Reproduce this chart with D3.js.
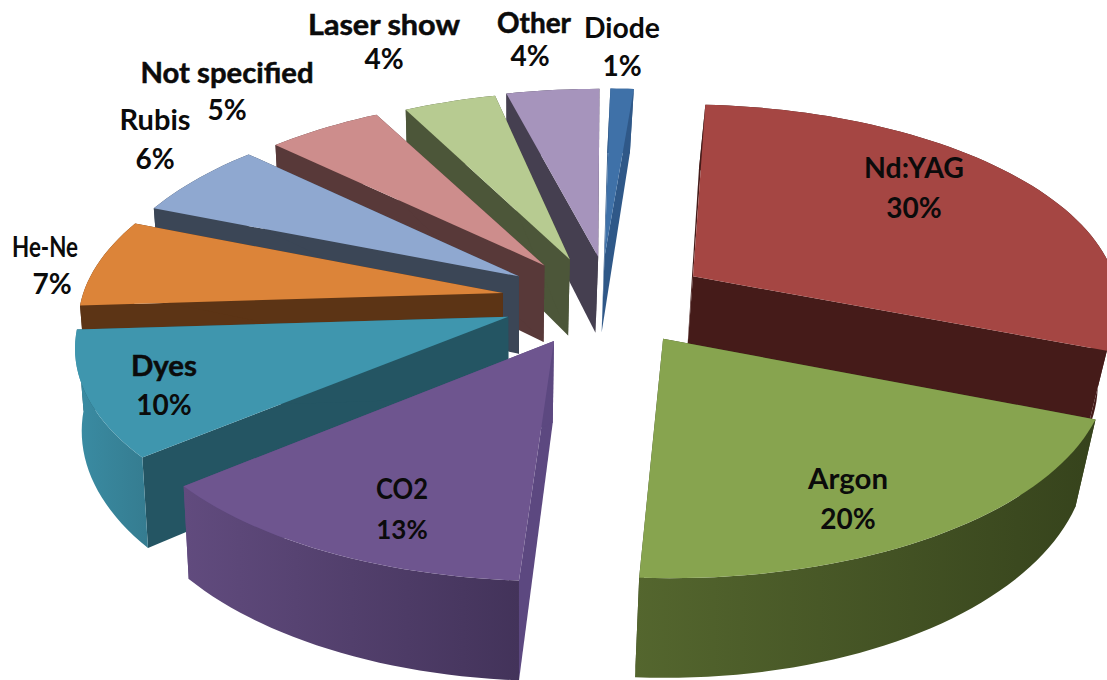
<!DOCTYPE html>
<html><head><meta charset="utf-8">
<script src="https://cdn.jsdelivr.net/npm/d3@7/dist/d3.min.js"></script>
<style>html,body{margin:0;background:#fff}svg{display:block}text{font-family:Lato,"Open Sans",sans-serif;font-weight:700;fill:#0b0b0b;text-anchor:middle}</style>
</head><body><svg id="c" width="1107" height="680"></svg>
<script>
// data
const categories=["Diode","Nd:YAG","Argon","CO2","Dyes","He-Ne","Rubis","Not specified","Laser show","Other"];
const shares=[1,30,20,13,10,7,6,5,4,4];
// styles
const topColors=["#3F71A8","#A54643","#87A44F","#6E558F","#3F96AE","#DC8439","#8FA8D0","#CD8D8C","#B7CB91","#A694BC"];
const edgeColors=["#2F5888","#451B19","#3A461F","#5C4880","#245563","#5C3415","#3B4656","#583939","#4C5639","#453F50"];
const rimLeft=["#2F5888","#451B19","#54662E","#614B7E","#3A8CA3","#5C3415","#3B4656","#583939","#4C5639","#453F50"];
const rimRight=["#2F5888","#451B19","#36431C","#43335A","#357C90","#5C3415","#3B4656","#583939","#4C5639","#453F50"];
const labelSpots=[[622,38,622,76],[914,178,914,218],[848,489,848,529],[402,499,402,539],[164,376,164,415],[45,257,52,294],[155,130,155,169],[227,83,227,120],[384,35,384,69],[534,33,530,66]];
const nameWidths=[76,100,80,52,66,66,71,173,152,74];
const heavy=[0,0,0,0,1,0,0,1,1,1];
// per-slice fine adjustment of the explosion, in pie radii
const rimShift=[-0.006,0,0,-0.015,-0.01,-0.008,-0.006,0.005,0.025,0];
const apexShift=[-0.02,0.006,0,-0.025,-0.025,-0.028,-0.025,-0.018,-0.013,0];
// projection
const cx=610,cy=300,A=430,G=199,K=0.125,H=79,P=1.44,EXPL=0.225,SHRINK_L=0.985,SHRINK_R=0.965,VX=520;
const proj=(u,v,low)=>{const s=1/(1-K*v);const x=cx+u*A*s;
  return low?[VX+(x-VX)*(x<VX?SHRINK_L:SHRINK_R), cy+v*G*s+H*Math.pow(s,P)]:[x,cy+v*G*s];};
const pie=d3.pie().sort(null).value(d=>d);
const arcs=pie(shares);
const svg=d3.select("#c");
const defs=svg.append("defs");
const line=d3.line();
const order=[0,9,8,7,6,5,4,3,1,2];
order.forEach(i=>{
  const a=arcs[i],mid=(a.startAngle+a.endAngle)/2;
  const ox=EXPL*Math.sin(mid),oy=-EXPL*Math.cos(mid);
  const pt=(t,low)=>proj(ox+rimShift[i]+Math.sin(t),oy-Math.cos(t),low);
  const apex=low=>proj(ox+apexShift[i],oy,low);
  const n=Math.max(4,Math.ceil((a.endAngle-a.startAngle)/0.03));
  const ts=d3.range(n+1).map(k=>a.startAngle+(a.endAngle-a.startAngle)*k/n);
  const g=svg.append("g");
  const gid="rim"+i;
  const gr=defs.append("linearGradient").attr("id",gid);
  gr.append("stop").attr("offset",0).attr("stop-color",rimLeft[i]);
  gr.append("stop").attr("offset",1).attr("stop-color",rimRight[i]);
  [a.startAngle,a.endAngle].forEach(t=>{
    g.append("path").attr("d",line([apex(false),pt(t,false),pt(t,true),apex(true)])+"Z").attr("fill",edgeColors[i]);
  });
  const rim=ts.map(t=>pt(t,false)).concat(ts.slice().reverse().map(t=>pt(t,true)));
  g.append("path").attr("d",line(rim)+"Z").attr("fill",`url(#${gid})`);
  g.append("path").attr("d",line([apex(false)].concat(ts.map(t=>pt(t,false))))+"Z").attr("fill",topColors[i]);
});
const tg=svg.append("g");
categories.forEach((c,i)=>{
  const p=labelSpots[i];
  const sw=heavy[i]?0.5:0;
  tg.append("text").attr("x",p[0]).attr("y",p[1]).attr("font-size",28)
    .attr("textLength",nameWidths[i]).attr("lengthAdjust","spacingAndGlyphs")
    .attr("stroke","#0b0b0b").attr("stroke-width",sw).text(c);
  tg.append("text").attr("x",p[2]).attr("y",p[3]).attr("font-size",i===3?26:28).text(shares[i]+"%");
});
</script></body></html>
